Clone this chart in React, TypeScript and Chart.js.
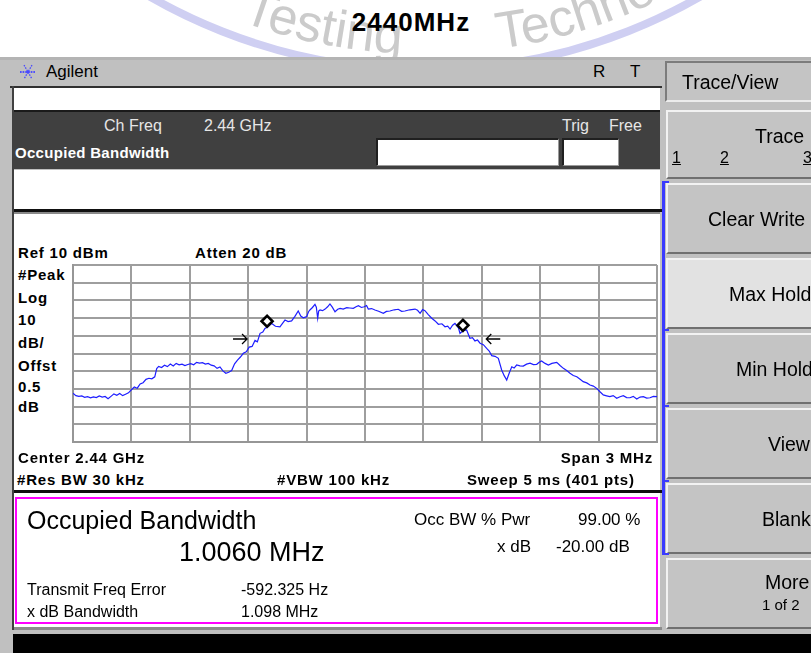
import React, { useEffect, useRef } from 'react';
import { Chart, registerables } from 'chart.js';

Chart.register(...registerables);

// ---------- data ----------
const FREQ_OFFSET_KHZ = [
  -1500, -1485, -1470, -1455, -1440, -1425, -1410, -1395, -1380, -1365,
  -1350, -1335, -1320, -1305, -1290, -1275, -1260, -1245, -1230, -1215,
  -1200, -1185, -1170, -1155, -1140, -1125, -1110, -1095, -1080, -1070,
  -1060, -1045, -1030, -1015, -1000, -985, -970, -955, -940, -925,
  -910, -895, -880, -865, -850, -835, -820, -805, -790, -775,
  -760, -745, -730, -715, -700, -685, -670, -655, -640, -625,
  -610, -595, -580, -565, -553, -539, -525, -514, -500, -479,
  -460, -437, -420, -411, -395, -377, -360, -343, -330, -317,
  -300, -290, -283, -270, -257, -250, -243, -238, -231, -218,
  -205, -192, -180, -168, -154, -140, -128, -112, -94, -78,
  -60, -46, -34, -18, -4, 8, 17, 34, 51, 70,
  94, 110, 128, 150, 171, 188, 205, 230, 257, 270,
  283, 296, 308, 325, 343, 360, 377, 395, 411, 425,
  437, 450, 462, 480, 488, 505, 522, 539, 552, 565,
  578, 591, 608, 625, 638, 651, 668, 685, 702, 715,
  728, 741, 754, 766, 779, 796, 813, 830, 848, 865,
  882, 895, 907, 925, 942, 960, 985, 1002, 1019, 1036,
  1053, 1070, 1088, 1105, 1121, 1139, 1156, 1173, 1190, 1207,
  1224, 1241, 1258, 1275, 1293, 1310, 1327, 1344, 1361, 1378,
  1396, 1413, 1430, 1447, 1464, 1481, 1500,
];

const TRACE_DBM = [
  -62.5, -63.8, -64.2, -64.0, -64.8, -64.4, -65.0, -64.5, -64.9, -64.0,
  -64.6, -64.3, -65.6, -64.2, -62.8, -63.6, -62.6, -63.8, -63.0, -62.2,
  -60.5, -58.9, -59.6, -57.2, -56.5, -54.6, -54.0, -54.3, -53.2, -48.5,
  -47.3, -47.9, -46.6, -47.4, -46.0, -47.1, -45.6, -46.4, -46.0, -46.8,
  -46.2, -45.7, -46.4, -45.0, -45.4, -45.2, -46.0, -45.6, -46.6, -47.0,
  -48.4, -47.6, -49.8, -51.2, -50.6, -49.6, -45.8, -43.7, -42.0, -39.9,
  -39.0, -36.4, -36.0, -32.6, -33.4, -28.6, -27.9, -25.8, -25.0, -23.0,
  -24.6, -24.9, -22.4, -21.1, -22.0, -21.6, -19.0, -16.0, -18.8, -19.8,
  -19.2, -16.4, -15.4, -14.0, -12.2, -13.8, -20.1, -16.0, -15.4, -15.8,
  -14.9, -13.6, -12.0, -13.8, -16.4, -15.0, -14.5, -14.9, -14.1, -14.3,
  -14.5, -13.6, -13.0, -14.0, -13.6, -12.9, -14.9, -14.6, -15.4, -16.1,
  -17.3, -16.2, -16.0, -15.3, -15.0, -16.2, -16.0, -15.3, -14.9, -15.6,
  -17.3, -15.2, -15.8, -18.0, -20.1, -21.6, -23.5, -23.2, -24.9, -24.5,
  -26.2, -24.0, -23.0, -25.5, -28.6, -27.0, -26.7, -31.4, -31.0, -32.9,
  -32.4, -34.2, -35.0, -37.1, -38.6, -41.2, -41.6, -42.7, -49.3, -52.5,
  -55.0, -51.0, -47.5, -48.2, -46.5, -47.0, -47.1, -46.0, -45.5, -46.3,
  -46.1, -45.0, -44.2, -45.6, -46.5, -45.6, -45.0, -46.8, -48.4, -49.6,
  -51.2, -52.4, -53.1, -54.5, -55.9, -56.6, -57.8, -58.4, -59.7, -61.6,
  -63.4, -63.9, -64.4, -63.8, -65.3, -64.4, -63.8, -64.9, -65.0, -64.2,
  -65.7, -64.6, -64.4, -65.2, -65.0, -64.2, -64.4,
];

// occupied-bandwidth diamond markers
const MARKER_KHZ = [-503, 503];
const MARKER_DBM = [-21.8, -24.1];
// x dB (-20 dB) arrows: tip position
const ARROW_KHZ = [-606, 623];
const ARROW_DBM = -31.8;

// axis settings
const X_MIN_KHZ = -1500;
const X_MAX_KHZ = 1500;
const X_STEP_KHZ = 300;
const REF_LEVEL_DBM = 10;
const DB_PER_DIV = 10;
const DIVISIONS = 10;

// texts
const TITLE = '2440MHz';
const LEFT_LABELS = ['#Peak', 'Log', '10', 'dB/', 'Offst', '0.5', 'dB'];
const SOFTKEYS = ['Clear Write', 'Max Hold', 'Min Hold', 'View', 'Blank'];

const FONT = '"Liberation Sans", Arial, Helvetica, sans-serif';
const W = 811;

type TxtProps = {
  x?: number;
  right?: number;
  y: number;
  size: number;
  bold?: boolean;
  color?: string;
  ls?: number;
  children: React.ReactNode;
  extra?: React.CSSProperties;
};

function Txt({ x, right, y, size, bold, color = '#000', ls = 0, children, extra }: TxtProps) {
  const style: React.CSSProperties = {
    position: 'absolute',
    top: y - 0.59 * size,
    fontSize: size,
    lineHeight: 1.2,
    fontWeight: bold ? 'bold' : 'normal',
    color,
    letterSpacing: ls,
    whiteSpace: 'nowrap',
    fontFamily: FONT,
    ...extra,
  };
  if (right !== undefined) style.right = W - right;
  else style.left = x;
  return <div style={style}>{children}</div>;
}

function Rect({ x, y, w, h, bg, extra }: { x: number; y: number; w: number; h: number; bg: string; extra?: React.CSSProperties }) {
  return (
    <div
      style={{
        position: 'absolute',
        left: x,
        top: y,
        width: w,
        height: h,
        background: bg,
        boxSizing: 'border-box',
        ...extra,
      }}
    />
  );
}

const arrowPlugin = {
  id: 'xdbArrows',
  afterDatasetsDraw(chart: any) {
    const ctx = chart.ctx;
    const xs = chart.scales.x;
    const ys = chart.scales.y;
    ctx.save();
    ctx.strokeStyle = '#000';
    ctx.lineWidth = 1.3;
    ARROW_KHZ.forEach((k, i) => {
      const px = xs.getPixelForValue(k);
      const py = ys.getPixelForValue(ARROW_DBM);
      const dir = i === 0 ? 1 : -1; // 1 points right, -1 points left
      ctx.beginPath();
      ctx.moveTo(px - dir * 14, py);
      ctx.lineTo(px, py);
      ctx.moveTo(px - dir * 5, py - 5);
      ctx.lineTo(px, py);
      ctx.lineTo(px - dir * 5, py + 5);
      ctx.stroke();
    });
    ctx.restore();
  },
};

function Spectrum() {
  const ref = useRef<HTMLCanvasElement | null>(null);
  useEffect(() => {
    const canvas = ref.current;
    if (!canvas) return;
    const n = Math.min(FREQ_OFFSET_KHZ.length, TRACE_DBM.length);
    const trace = [];
    for (let i = 0; i < n; i++) trace.push({ x: FREQ_OFFSET_KHZ[i], y: TRACE_DBM[i] });
    const markers = MARKER_KHZ.map((k, i) => ({ x: k, y: MARKER_DBM[i] }));
    const gridColor = '#9e9e9e';
    const chart = new Chart(canvas, {
      type: 'line',
      data: {
        datasets: [
          {
            label: 'Occ BW markers',
            type: 'scatter',
            data: markers,
            pointStyle: 'rectRot',
            pointRadius: 5.5,
            borderColor: '#000',
            borderWidth: 2.6,
            backgroundColor: '#fff',
            showLine: false,
            order: 0,
          } as any,
          {
            label: 'Trace 1',
            data: trace,
            borderColor: '#1e1eff',
            borderWidth: 1.2,
            pointRadius: 0,
            tension: 0,
            fill: false,
            order: 1,
          },
        ],
      },
      options: {
        animation: false,
        responsive: false,
        maintainAspectRatio: false,
        layout: { padding: { left: 10, right: 11, top: 10, bottom: 11 } },
        plugins: { legend: { display: false }, tooltip: { enabled: false }, title: { display: false } },
        scales: {
          x: {
            type: 'linear',
            min: X_MIN_KHZ,
            max: X_MAX_KHZ,
            ticks: { display: false, stepSize: X_STEP_KHZ },
            grid: { color: gridColor, lineWidth: 2, drawTicks: false },
            border: { display: true, color: '#969696', width: 2 },
          },
          y: {
            type: 'linear',
            min: REF_LEVEL_DBM - DB_PER_DIV * DIVISIONS,
            max: REF_LEVEL_DBM,
            ticks: { display: false, stepSize: DB_PER_DIV },
            grid: { color: gridColor, lineWidth: 2, drawTicks: false },
            border: { display: true, color: '#969696', width: 2 },
          },
        },
      },
      plugins: [arrowPlugin],
    });
    return () => chart.destroy();
  }, []);
  return (
    <canvas
      ref={ref}
      width={605}
      height={198}
      style={{ position: 'absolute', left: 63, top: 255, width: 605, height: 198 }}
    />
  );
}

function Watermark() {
  const cx = 425;
  const cy = -482;
  const rText = 536;
  const a = (40 * Math.PI) / 180;
  const ax = cx - rText * Math.sin(a);
  const ay = cy + rText * Math.cos(a);
  const bx = cx + rText * Math.sin(a);
  const path = `M ${ax} ${ay} A ${rText} ${rText} 0 0 0 ${bx} ${ay}`;
  return (
    <svg width={811} height={60} style={{ position: 'absolute', left: 0, top: 0 }}>
      <defs>
        <path id="wmPath" d={path} />
      </defs>
      <circle cx={cx} cy={cy} r={552} fill="none" stroke="#cfcff2" strokeWidth={8} />
      <text fontFamily={FONT} fontSize={52} fill="#cbcbcb">
        <textPath href="#wmPath" startOffset={186}>Testing</textPath>
      </text>
      <text fontFamily={FONT} fontSize={52} fill="#cbcbcb">
        <textPath href="#wmPath" startOffset={448}>Technology</textPath>
      </text>
    </svg>
  );
}

function AgilentIcon() {
  const lines = [0, 60, 120].map((deg) => {
    const r = (deg * Math.PI) / 180;
    const dx = Math.cos(r) * 8;
    const dy = Math.sin(r) * 8;
    return <line key={deg} x1={9 - dx} y1={9 - dy} x2={9 + dx} y2={9 + dy} stroke="#4848ff" strokeWidth={1.3} strokeDasharray="1.5 1.2" />;
  });
  return (
    <svg width={18} height={18} style={{ position: 'absolute', left: 19, top: 63 }}>
      {lines}
      <line x1={1} y1={9} x2={17} y2={9} stroke="#4848ff" strokeWidth={1.3} strokeDasharray="1.5 1.2" />
      <circle cx={9} cy={9} r={1.5} fill="#4848ff" />
    </svg>
  );
}

function Softkey({ top, bottom, fill = '#c4c4c4' }: { top: number; bottom: number; fill?: string }) {
  return (
    <Rect
      x={666}
      y={top}
      w={150}
      h={bottom - top}
      bg={fill}
      extra={{
        borderTop: '2px solid #f2f2f2',
        borderLeft: '2px solid #f2f2f2',
        borderBottom: '2px solid #707070',
      }}
    />
  );
}

export default function App() {
  const skTops = [183, 258, 333, 408, 483];
  const skLeft = [708, 729, 736, 768, 762];
  return (
    <div
      style={{
        position: 'absolute',
        left: 0,
        top: 0,
        width: W,
        height: 653,
        background: '#fff',
        overflow: 'hidden',
        fontFamily: FONT,
      }}
    >
      <Watermark />
      <Txt x={411} y={22} size={26} bold ls={1} extra={{ transform: 'translateX(-50%)' }}>
        {TITLE}
      </Txt>

      {/* instrument screen background */}
      <Rect x={0} y={57} w={811} h={596} bg="#c0c0c0" />
      <Rect x={0} y={57} w={811} h={3} bg="#b4b4b4" />

      {/* title bar */}
      <AgilentIcon />
      <Txt x={46} y={72} size={17}>Agilent</Txt>
      <Txt x={593} y={72} size={17}>R</Txt>
      <Txt x={630} y={72} size={17}>T</Txt>
      <Rect x={10} y={86} w={652} h={2} bg="#303030" />
      <Rect x={12} y={86} w={2} h={544} bg="#404040" />

      {/* top white box */}
      <Rect x={14} y={88} w={646} h={22} bg="#fff" />
      {/* dark measurement band */}
      <Rect x={14} y={110} w={646} h={2} bg="#1a1a1a" />
      <Rect x={14} y={112} w={646} h={57} bg="#404040" />
      <Txt x={104} y={125} size={16} color="#e6e6e6">Ch Freq</Txt>
      <Txt x={204} y={125} size={16} color="#e6e6e6">2.44 GHz</Txt>
      <Txt x={562} y={125} size={16} color="#e6e6e6">Trig</Txt>
      <Txt x={609} y={125} size={16} color="#e6e6e6">Free</Txt>
      <Txt x={15} y={153} size={15} bold color="#fff" ls={0.3}>Occupied Bandwidth</Txt>
      <Rect x={376} y={138} w={183} h={28} bg="#fff" extra={{ borderTop: '2px solid #202020', borderLeft: '2px solid #202020', borderBottom: '1px solid #9a9a9a', borderRight: '1px solid #9a9a9a' }} />
      <Rect x={562} y={138} w={57} h={28} bg="#fff" extra={{ borderTop: '2px solid #202020', borderLeft: '2px solid #202020', borderBottom: '1px solid #9a9a9a', borderRight: '1px solid #9a9a9a' }} />

      {/* second white box */}
      <Rect x={14} y={170} w={646} h={39} bg="#fff" />
      <Rect x={14} y={209} w={648} h={3} bg="#111" />
      <Rect x={14} y={212} w={646} h={2} bg="#8a8a8a" />

      {/* graph area */}
      <Rect x={14} y={214} w={646} h={276} bg="#fff" />
      <Txt x={18} y={253} size={15} bold ls={0.8}>Ref 10 dBm</Txt>
      <Txt x={195} y={253} size={15} bold ls={0.8}>Atten 20 dB</Txt>
      {LEFT_LABELS.map((t, i) => (
        <Txt key={t + i} x={18} y={[275, 298, 320, 343, 366, 387, 407][i]} size={15} bold ls={0.8}>
          {t}
        </Txt>
      ))}
      <Spectrum />
      <Txt x={18} y={458} size={15} bold ls={0.8}>Center 2.44 GHz</Txt>
      <Txt right={653} y={458} size={15} bold ls={0.8}>Span 3 MHz</Txt>
      <Txt x={17} y={480} size={15} bold ls={0.8}>#Res BW 30 kHz</Txt>
      <Txt x={277} y={480} size={15} bold ls={0.8}>#VBW 100 kHz</Txt>
      <Txt x={467} y={480} size={15} bold ls={0.8}>Sweep 5 ms (401 pts)</Txt>
      <Rect x={14} y={490} w={648} h={3} bg="#111" />

      {/* result area */}
      <Rect x={14} y={493} w={646} h={134} bg="#fff" />
      <Rect x={15} y={497} w={643} h={127} bg="#fff" extra={{ border: '2px solid #ff00ff' }} />
      <Txt x={27} y={520} size={25}>Occupied Bandwidth</Txt>
      <Txt x={179} y={552} size={27}>1.0060 MHz</Txt>
      <Txt x={414} y={520} size={17}>Occ BW % Pwr</Txt>
      <Txt x={578} y={520} size={17}>99.00 %</Txt>
      <Txt x={497} y={547} size={17}>x dB</Txt>
      <Txt x={556} y={547} size={17}>-20.00 dB</Txt>
      <Txt x={27} y={589} size={16}>Transmit Freq Error</Txt>
      <Txt x={241} y={589} size={16}>-592.325 Hz</Txt>
      <Txt x={27} y={611} size={16}>x dB Bandwidth</Txt>
      <Txt x={241} y={611} size={16}>1.098 MHz</Txt>
      <Rect x={14} y={627} w={648} h={3} bg="#8c8c8c" />

      {/* bottom black bar */}
      <Rect x={13} y={634} w={798} h={19} bg="#000" />

      {/* softkey panel */}
      <Rect x={665} y={61} w={150} h={41} bg="#c4c4c4" extra={{ borderTop: '2px solid #7c7c7c', borderLeft: '2px solid #7c7c7c', borderBottom: '2px solid #ececec' }} />
      <Txt x={682} y={83} size={19.5}>Trace/View</Txt>

      <Softkey top={110} bottom={179} />
      <Txt x={755} y={137} size={19.5}>Trace</Txt>
      <Txt x={672} y={157} size={16} extra={{ textDecoration: 'underline' }}>1</Txt>
      <Txt x={720} y={157} size={16} extra={{ textDecoration: 'underline' }}>2</Txt>
      <Txt x={803} y={157} size={16} extra={{ textDecoration: 'underline' }}>3</Txt>

      {SOFTKEYS.map((label, i) => (
        <React.Fragment key={label}>
          <Softkey top={skTops[i]} bottom={skTops[i] + 71} fill={i === 1 ? '#e2e2e2' : '#c4c4c4'} />
          <Txt x={skLeft[i]} y={skTops[i] + 37} size={19.5}>{label}</Txt>
        </React.Fragment>
      ))}
      <Softkey top={558} bottom={629} />
      <Txt x={765} y={583} size={19.5}>More</Txt>
      <Txt x={762} y={605} size={15}>1 of 2</Txt>

      {/* blue active bracket */}
      <Rect x={662} y={181} w={2.5} h={374} bg="#3a3aff" />
      {[181, 329, 405, 480, 553].map((yy) => (
        <Rect key={yy} x={662} y={yy} w={7} h={2} bg="#3a3aff" />
      ))}
    </div>
  );
}
